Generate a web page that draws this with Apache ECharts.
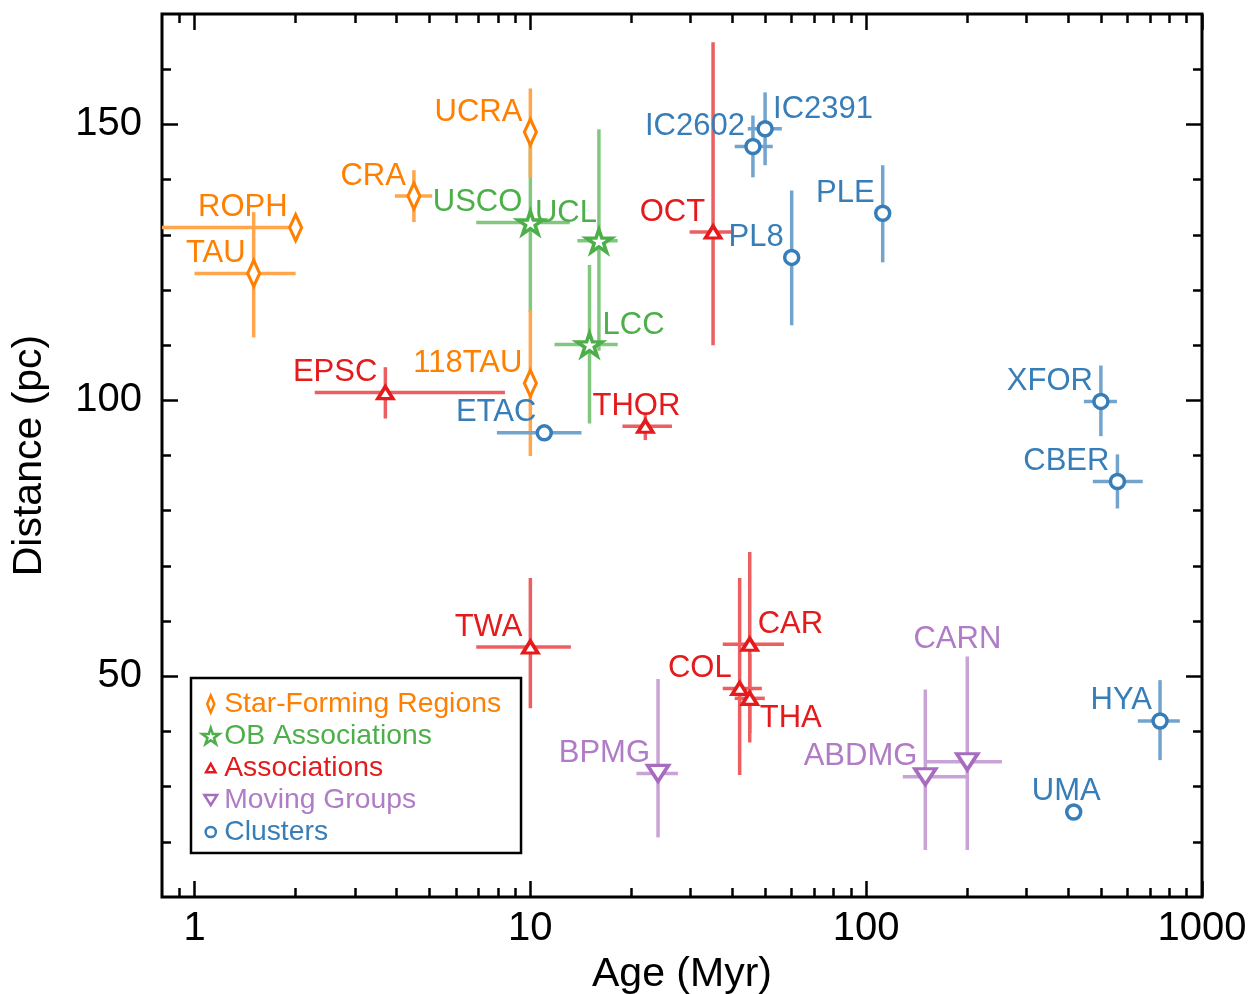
<!DOCTYPE html>
<html>
<head>
<meta charset="utf-8">
<script src="https://cdn.jsdelivr.net/npm/echarts@6/dist/echarts.min.js"></script>
<style>
html,body{margin:0;padding:0;background:#fff;}
#chart{width:1254px;height:994px;}
</style>
</head>
<body>
<div id="chart"></div>
<script>
// ---------------- DATA ----------------
// Star-Forming Regions
const sfrNames  = ['ROPH', 'TAU', 'CRA', 'UCRA', '118TAU'];
const sfrAge    = [2.0, 1.5, 4.5, 10, 10];
const sfrAgeLo  = [0.5, 1.0, 3.95, null, null];
const sfrAgeHi  = [2.0, 2.0, 5.1, null, null];
const sfrDist   = [131.3, 123.0, 137.0, 148.6, 103.1];
const sfrDistLo = [null, 111.4, 132.3, 140.4, 89.9];
const sfrDistHi = [null, 134.1, 141.7, 156.5, 116.3];

// OB Associations
const obNames  = ['USCO', 'UCL', 'LCC'];
const obAge    = [10, 16, 15];
const obAgeLo  = [6.9, 13.8, 11.8];
const obAgeHi  = [13.1, 18.2, 18.2];
const obDist   = [132.2, 128.9, 110.1];
const obDistLo = [116.0, 109.0, 95.8];
const obDistHi = [148.4, 149.1, 124.5];

// Associations
const asNames  = ['EPSC', 'OCT', 'THOR', 'TWA', 'CAR', 'COL', 'THA'];
const asAge    = [3.7, 35, 22, 10, 45, 42, 45];
const asAgeLo  = [2.28, 29.8, 18.8, 6.9, 37.4, 37.4, 40.6];
const asAgeHi  = [8.4, 39.8, 26.4, 13.2, 56.9, 48.9, 49.9];
const asDist   = [101.4, 130.5, 95.3, 55.3, 55.8, 47.8, 46.0];
const asDistLo = [96.7, 110.0, 92.8, 44.2, 39.7, 32.1, 38.0];
const asDistHi = [106.0, 164.9, 97.8, 67.8, 72.5, 67.8, 54.0];

// Moving Groups
const mgNames  = ['BPMG', 'ABDMG', 'CARN'];
const mgAge    = [24, 150, 200];
const mgAgeLo  = [20.7, 128.5, 151.5];
const mgAgeHi  = [27.5, 199.4, 253.5];
const mgDist   = [32.4, 31.8, 34.5];
const mgDistLo = [20.8, 18.5, 18.5];
const mgDistHi = [49.5, 47.6, 53.6];

// Clusters
const clNames  = ['ETAC', 'IC2602', 'IC2391', 'PL8', 'PLE', 'XFOR', 'CBER', 'HYA', 'UMA'];
const clAge    = [11, 46, 50, 60, 112, 500, 560, 750, 415];
const clAgeLo  = [7.95, 40.6, 44.4, null, null, 445, 473, 644, null];
const clAgeHi  = [14.2, 52.7, 56.1, null, null, 558, 666, 859, null];
const clDist   = [94.1, 146.0, 149.2, 125.9, 133.9, 99.8, 85.3, 41.9, 25.4];
const clDistLo = [null, 140.4, 142.6, 113.6, 125.0, 93.5, 80.4, 34.8, null];
const clDistHi = [null, 151.6, 155.8, 138.0, 142.6, 106.3, 90.2, 49.3, null];

// Axis ticks
const xMajorTicks = [1, 10, 100, 1000];
const xMinorTicks = [0.9, 2, 3, 4, 5, 6, 7, 8, 9, 20, 30, 40, 50, 60, 70, 80, 90, 200, 300, 400, 500, 600, 700, 800, 900];
const yMajorTicks = [50, 100, 150];
const yMinorTicks = [20, 30, 40, 60, 70, 80, 90, 110, 120, 130, 140, 160];

// ---------------- LAYOUT / STYLE ----------------
const FONT = '"Liberation Sans", Arial, Helvetica, sans-serif';
const labelPlacement = {
  _default: ['right', -8, -20],
  UCL: ['right', -2, -27.5],
  LCC: ['left', 13, -19.5],
  THOR: ['right', 35, -19.5],
  IC2391: ['left', 8, -19.5],
  CAR: ['left', 8, -20],
  THA: ['left', 10, 20],
  CARN: ['right', 34, -122.5],
  UMA: ['right', 27, -20.5]
};

const STAR = 'path://M0,-1L0.2245,-0.309L0.951,-0.309L0.363,0.118L0.588,0.809L0,0.382L-0.588,0.809L-0.363,0.118L-0.951,-0.309L-0.2245,-0.309Z';

const groups = [
  { name: 'OB Associations', names: obNames, age: obAge, ageLo: obAgeLo, ageHi: obAgeHi, dist: obDist, distLo: obDistLo, distHi: obDistHi,
    color: '#4daf4a', bar: '#82c780', text: '#4daf4a', symbol: STAR, size: [25, 24], rotate: 0,
    legendIcon: STAR, barZ: 1 },
  { name: 'Star-Forming Regions', names: sfrNames, age: sfrAge, ageLo: sfrAgeLo, ageHi: sfrAgeHi, dist: sfrDist, distLo: sfrDistLo, distHi: sfrDistHi,
    color: '#ff7f00', bar: '#ffa54c', text: '#ff7f00', symbol: 'diamond', size: [12, 26], rotate: 0,
    legendIcon: 'path://M-1,-1M1,1M0,-1L0.42,0L0,1L-0.42,0Z', barZ: 2 },
  { name: 'Associations', names: asNames, age: asAge, ageLo: asAgeLo, ageHi: asAgeHi, dist: asDist, distLo: asDistLo, distHi: asDistHi,
    color: '#e41a1c', bar: '#ec5e60', text: '#e41a1c', symbol: 'triangle', size: [15, 12], rotate: 0,
    legendIcon: 'path://M-1,-1M1,1M0,-0.5L0.55,0.5L-0.55,0.5Z', barZ: 3 },
  { name: 'Moving Groups', names: mgNames, age: mgAge, ageLo: mgAgeLo, ageHi: mgAgeHi, dist: mgDist, distLo: mgDistLo, distHi: mgDistHi,
    color: '#a86cbe', bar: '#c9a3d6', text: '#b07cc6', symbol: 'triangle', size: [21, 16], rotate: 180,
    legendIcon: 'path://M-1,-1M1,1M-0.75,-0.6L0.75,-0.6L0,0.6Z', barZ: 4 },
  { name: 'Clusters', names: clNames, age: clAge, ageLo: clAgeLo, ageHi: clAgeHi, dist: clDist, distLo: clDistLo, distHi: clDistHi,
    color: '#377eb8', bar: '#73a4cd', text: '#377eb8', symbol: 'circle', size: 14, rotate: 0,
    legendIcon: 'path://M-1,-1M1,1M0.6,0A0.6,0.6 0 1,1 -0.6,0A0.6,0.6 0 1,1 0.6,0Z', barZ: 5 }
];

const series = [];
groups.forEach(function (g) {
  series.push({
    type: 'custom',
    name: g.name + ' err',
    xAxisIndex: 0, yAxisIndex: 0,
    clip: true,
    z: g.barZ,
    silent: true,
    encode: { x: 0, y: 1 },
    data: g.age.map(function (a, i) { return [a, g.dist[i]]; }),
    renderItem: function (params, api) {
      const i = params.dataIndex;
      const children = [];
      const st = { stroke: g.bar, lineWidth: 3.5 };
      if (g.ageLo[i] != null) {
        const p1 = api.coord([g.ageLo[i], g.dist[i]]);
        const p2 = api.coord([g.ageHi[i], g.dist[i]]);
        children.push({ type: 'line', shape: { x1: p1[0], y1: p1[1], x2: p2[0], y2: p2[1] }, style: st });
      }
      if (g.distLo[i] != null) {
        const p1 = api.coord([g.age[i], g.distLo[i]]);
        const p2 = api.coord([g.age[i], g.distHi[i]]);
        children.push({ type: 'line', shape: { x1: p1[0], y1: p1[1], x2: p2[0], y2: p2[1] }, style: st });
      }
      return { type: 'group', children: children };
    }
  });
});
groups.forEach(function (g) {
  series.push({
    type: 'scatter',
    name: g.name,
    xAxisIndex: 0, yAxisIndex: 0,
    z: 10,
    symbol: g.symbol,
    symbolSize: g.size,
    symbolRotate: g.rotate,
    symbolKeepAspect: g.symbol === STAR,
    itemStyle: { color: '#fff', borderColor: g.color, borderWidth: 3.5, opacity: 1 },
    emphasis: { disabled: true },
    data: g.names.map(function (n, i) {
      const lp = labelPlacement[n] || labelPlacement._default;
      return {
        name: n,
        value: [g.age[i], g.dist[i]],
        label: { align: lp[0], offset: [lp[1], lp[2]] }
      };
    }),
    label: {
      show: true,
      formatter: '{b}',
      position: 'inside',
      verticalAlign: 'middle',
      fontFamily: FONT,
      fontSize: 31,
      color: g.text
    }
  });
});

const legendOrder = ['Star-Forming Regions', 'OB Associations', 'Associations', 'Moving Groups', 'Clusters'];
const legendData = legendOrder.map(function (nm) {
  const g = groups.find(function (q) { return q.name === nm; });
  return {
    name: nm,
    icon: g.legendIcon,
    itemStyle: { color: '#fff', borderColor: g.color, borderWidth: 2.5 },
    textStyle: { color: g.text }
  };
});

function numFmt(v) { return String(+Number(v).toPrecision(6)); }

function xAxisDef(pos, ticks, len, withLabels) {
  return {
    type: 'log', logBase: 10, min: 0.8, max: 1000, position: pos,
    gridIndex: 0,
    axisLine: { show: false },
    splitLine: { show: false },
    minorTick: { show: false },
    axisTick: { show: true, inside: true, length: len, customValues: ticks, lineStyle: { color: '#000', width: 2.5 } },
    axisLabel: withLabels ? { show: true, customValues: xMajorTicks, formatter: numFmt, fontFamily: FONT, fontSize: 40, color: '#000', margin: 12 } : { show: false },
    name: withLabels ? 'Age (Myr)' : '',
    nameLocation: 'middle',
    nameGap: 53,
    nameTextStyle: { fontFamily: FONT, fontSize: 41, color: '#000' }
  };
}
function yAxisDef(pos, ticks, len, withLabels) {
  return {
    type: 'value', min: 10, max: 170, position: pos,
    gridIndex: 0,
    axisLine: { show: false },
    splitLine: { show: false },
    minorTick: { show: false },
    axisTick: { show: true, inside: true, length: len, customValues: ticks, lineStyle: { color: '#000', width: 2.5 } },
    axisLabel: withLabels ? { show: true, customValues: yMajorTicks, formatter: numFmt, fontFamily: FONT, fontSize: 40, color: '#000', margin: 20 } : { show: false },
    name: withLabels ? 'Distance (pc)' : '',
    nameLocation: 'middle',
    nameGap: 112,
    nameTextStyle: { fontFamily: FONT, fontSize: 41, color: '#000' }
  };
}

const chart = echarts.init(document.getElementById('chart'), null, { renderer: 'canvas' });
chart.setOption({
  backgroundColor: '#fff',
  animation: false,
  grid: { left: 162, top: 14, right: 52, bottom: 97, containLabel: false, outerBoundsMode: 'none',
          show: true, borderColor: '#000', borderWidth: 3, backgroundColor: 'transparent' },
  xAxis: [
    xAxisDef('bottom', xMajorTicks, 16, true),
    xAxisDef('bottom', xMinorTicks, 9, false),
    xAxisDef('top', xMajorTicks, 16, false),
    xAxisDef('top', xMinorTicks, 9, false)
  ],
  yAxis: [
    yAxisDef('left', yMajorTicks, 16, true),
    yAxisDef('left', yMinorTicks, 9, false),
    yAxisDef('right', yMajorTicks, 16, false),
    yAxisDef('right', yMinorTicks, 9, false)
  ],
  legend: {
    show: true,
    orient: 'vertical',
    left: 191, top: 678,
    padding: [10, 20, 5, 10],
    itemGap: 0,
    itemWidth: 17, itemHeight: 17,
    symbolKeepAspect: true,
    selectedMode: false,
    borderColor: '#000', borderWidth: 2.5, borderRadius: 0,
    backgroundColor: '#fff',
    textStyle: { fontFamily: FONT, fontSize: 28.3, lineHeight: 32, padding: [0, 0, 0, 0] },
    data: legendData
  },
  series: series
});
</script>
</body>
</html>
